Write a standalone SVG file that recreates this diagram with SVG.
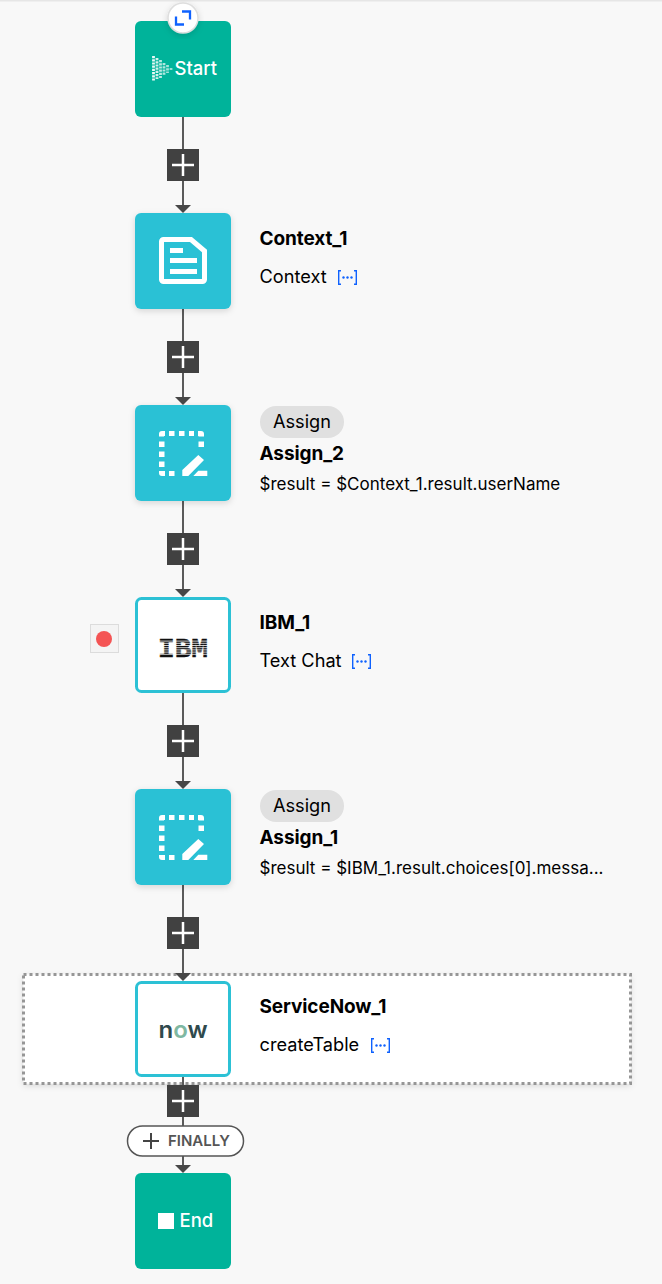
<svg xmlns="http://www.w3.org/2000/svg" width="662" height="1284" viewBox="0 0 662 1284">
<style>
text{font-family:Inter,Roboto,"Liberation Sans",sans-serif;fill:#000}
.t{font-size:19px;font-weight:700;letter-spacing:-.1px}
.s{font-size:18.200px}
.e{font-size:17px}
.n{font-size:18.500px;font-weight:500;fill:#fff}
.g{fill:#00b39a}.b{fill:#2cc1d5}
.w{fill:#fff;stroke:#2cc1d5;stroke-width:3}
.l{stroke:#5a5a5a;stroke-width:2;fill:none}
.pb{fill:#414141}.pl{stroke:#fff;stroke-width:2.5;fill:none}
.a{fill:#474747}
.k{fill:none;stroke:#0f62fe;stroke-width:1.400}
.kd{fill:#0f62fe}
.pill{fill:#e0e0e0}
</style>
<defs>
<filter id="sh" x="-20%" y="-20%" width="140%" height="140%"><feDropShadow dx="0" dy="2" stdDeviation="3" flood-color="#000" flood-opacity=".14"/></filter>
<g id="plus"><rect class="pb" x="-16" y="-16" width="32" height="32"/><path class="pl" d="M-11 0H11M0-11V11"/></g>
<path id="arrow" class="a" d="M-8-4H8L0 4Z"/>
<g id="dots"><path class="k" d="M3 0.700H0.700V14.300H3M16 0.700H18.300V14.300H16"/><circle class="kd" cx="5.500" cy="7.500" r="1.200"/><circle class="kd" cx="9.500" cy="7.500" r="1.200"/><circle class="kd" cx="13.500" cy="7.500" r="1.200"/></g>
<g id="assignIcon" fill="#fff">
<path d="M0 3a3 3 0 0 1 3-3h3v5H5v0.500H0ZM10 0h5.500v5H10ZM20 0h5.500v5H20ZM30 0h5v5h-5ZM39 0h3a3 3 0 0 1 3 3v2.500h-5.500V5H39ZM39.500 10.500H45v5.500h-5.500ZM0 10.500h5.500v5.500H0ZM0 20.500h5.500v5.500H0ZM0 30.500h5.500v5.500H0ZM0 40h5.500v0H6v5H3a3 3 0 0 1-3-3ZM10 40h5.500v5H10Z"/>
<path d="M23.300 45v-6L39.300 24 45 29 29.300 45ZM34.300 45l5-5.300h9V45Z"/>
</g>
</defs>
<rect width="662" height="1284" fill="#f8f8f8"/>
<rect width="662" height="1.500" fill="#e6e6e6"/>
<rect x="23.500" y="974.500" width="607" height="109" fill="#fff" filter="url(#sh)"/>
<rect x="23.500" y="974.500" width="607" height="109" fill="none" stroke="#969696" stroke-width="3" stroke-dasharray="3 3"/>
<g id="connectors">
<path class="l" d="M183 117V207M183 309V399M183 501V591M183 693V783M183 885V975M183 1077V1167"/>
<use href="#plus" x="183" y="165"/><use href="#plus" x="183" y="357"/><use href="#plus" x="183" y="549"/><use href="#plus" x="183" y="741"/><use href="#plus" x="183" y="933"/><use href="#plus" x="183" y="1101"/>
<use href="#arrow" x="183" y="209"/><use href="#arrow" x="183" y="401"/><use href="#arrow" x="183" y="593"/><use href="#arrow" x="183" y="785"/><use href="#arrow" x="183" y="977"/><use href="#arrow" x="183" y="1169"/>
</g>
<g id="node-start">
<rect class="g" x="135" y="21" width="96" height="96" rx="6"/>
<g fill="none" stroke="#e9f8f5" stroke-width="2.800" stroke-dasharray="2.200 1">
<path d="M153.500 56V81"/><path d="M157 58V79" opacity=".9"/><path d="M160.500 60V78" opacity=".8"/><path d="M164 63V75" opacity=".75"/><path d="M167.500 65V73" opacity=".7"/><path d="M171 68V70" opacity=".65"/>
</g>
<text class="n" x="174.500" y="74.500">Start</text>
<circle cx="183" cy="18" r="15" fill="#fff" stroke="#dedede" stroke-width="1.500" filter="url(#sh)"/>
<path d="M176 16.500V24.500H184M182 11.500H190V19.500" fill="none" stroke="#0f62fe" stroke-width="2.300"/>
</g>
<g id="node-context">
<rect class="b" x="135" y="213" width="96" height="96" rx="6" filter="url(#sh)"/>
<path d="M163.500 239.500H191L204.500 251V279.500A2 2 0 0 1 202.500 281.500H163.500A2 2 0 0 1 161.500 279.500V241.500A2 2 0 0 1 163.500 239.500Z" fill="none" stroke="#fff" stroke-width="5"/>
<path d="M170 248h13v5h-13ZM170 258h27v5h-27ZM170 269h27v5h-27Z" fill="#fff"/>
<text class="t" x="259.500" y="245">Context_1</text>
<text class="s" x="259.500" y="283">Context</text>
<use href="#dots" x="338" y="270"/>
</g>
<g id="node-assign2">
<rect class="b" x="135" y="405" width="96" height="96" rx="6" filter="url(#sh)"/>
<use href="#assignIcon" x="159" y="431"/>
<rect class="pill" x="260" y="406" width="84" height="32" rx="16"/>
<text class="s" x="302" y="428" text-anchor="middle">Assign</text>
<text class="t" x="259.500" y="460">Assign_2</text>
<text class="e" x="259.500" y="490">$result = $Context_1.result.userName</text>
</g>
<g id="node-ibm">
<rect x="90.500" y="624.500" width="28" height="28" fill="#f4f4f4" stroke="#dcdcdc" stroke-width="1"/>
<circle cx="104" cy="639" r="8" fill="#f45454"/>
<rect class="w" x="136.500" y="598.500" width="93" height="93" rx="5"/>
<text x="183" y="656.500" text-anchor="middle" font-size="27.800" font-weight="700" stroke="#111" stroke-width=".5" style="font-family:'Liberation Mono',monospace;fill:#111">IBM</text>
<path d="M156 641.100h54M156 643.300h54M156 645.500h54M156 647.700h54M156 649.900h54M156 652.100h54M156 654.300h54" stroke="#fff" stroke-width=".8"/>
<text class="t" x="259.500" y="629">IBM_1</text>
<text class="s" x="259.500" y="667">Text Chat</text>
<use href="#dots" x="352" y="654"/>
</g>
<g id="node-assign1">
<rect class="b" x="135" y="789" width="96" height="96" rx="6" filter="url(#sh)"/>
<use href="#assignIcon" x="159" y="815"/>
<rect class="pill" x="260" y="790" width="84" height="32" rx="16"/>
<text class="s" x="302" y="812" text-anchor="middle">Assign</text>
<text class="t" x="259.500" y="844">Assign_1</text>
<text class="e" x="259.500" y="874">$result = $IBM_1.result.choices[0].messa...</text>
</g>
<g id="node-servicenow">
<rect class="w" x="136.500" y="982.500" width="93" height="93" rx="5"/>
<text x="183" y="1038" text-anchor="middle" font-size="24" font-weight="600" style="fill:#2f4a4d">n<tspan style="fill:#7fb8a2">o</tspan>w</text>
<text class="t" x="259.500" y="1013">ServiceNow_1</text>
<text class="s" x="259.500" y="1051">createTable</text>
<use href="#dots" x="371" y="1038"/>
</g>
<g id="finally">
<rect x="127.500" y="1126" width="116" height="30" rx="15" fill="#fff" stroke="#555" stroke-width="1.500"/>
<path d="M143 1141h16M151 1133v16" stroke="#444" stroke-width="2" fill="none"/>
<text x="168" y="1146" font-size="15" font-weight="600" style="fill:#555">FINALLY</text>
</g>
<g id="node-end">
<rect class="g" x="135" y="1173" width="96" height="96" rx="6"/>
<rect x="158" y="1213" width="16" height="16" fill="#fff"/>
<text class="n" x="179.500" y="1226.500">End</text>
</g>
</svg>
